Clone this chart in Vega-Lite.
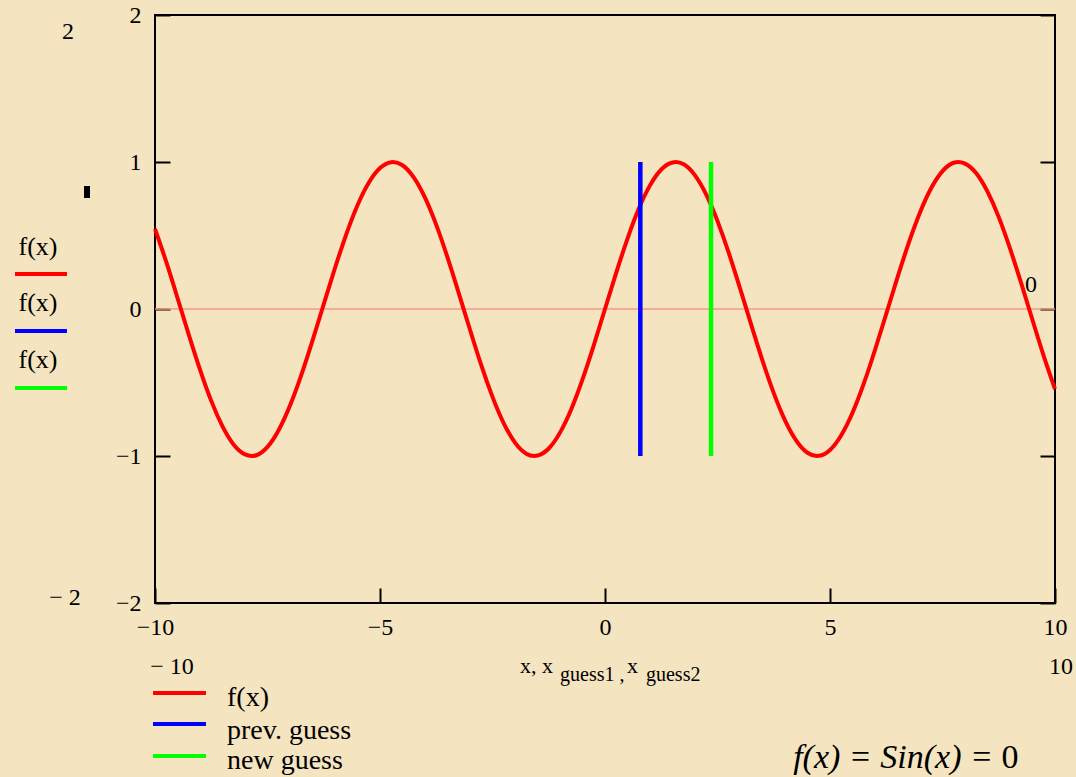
{
  "$schema": "https://vega.github.io/schema/vega-lite/v6.json",
  "width": 900,
  "height": 588,
  "autosize": {"type": "none"},
  "padding": {"left": 155, "top": 15, "right": 21, "bottom": 174},
  "background": "#f5e4c0",
  "config": {
    "view": {"stroke": "#000000", "strokeWidth": 2},
    "axis": {
      "domain": false,
      "grid": false,
      "tickColor": "#000000",
      "tickWidth": 2,
      "tickSize": -15,
      "labelFont": "Liberation Serif",
      "labelFontSize": 24,
      "labelColor": "#000000",
      "title": null
    },
    "text": {"font": "Liberation Serif", "color": "#000000"}
  },
  "datasets": {
    "curve": [
      {"x": -10, "y": 0.544}, {"x": -9.75, "y": 0.320}, {"x": -9.5, "y": 0.075}, {"x": -9.25, "y": -0.174},
      {"x": -9, "y": -0.412}, {"x": -8.75, "y": -0.625}, {"x": -8.5, "y": -0.798}, {"x": -8.25, "y": -0.923},
      {"x": -8, "y": -0.989}, {"x": -7.75, "y": -0.995}, {"x": -7.5, "y": -0.938}, {"x": -7.25, "y": -0.823},
      {"x": -7, "y": -0.657}, {"x": -6.75, "y": -0.450}, {"x": -6.5, "y": -0.215}, {"x": -6.25, "y": 0.033},
      {"x": -6, "y": 0.279}, {"x": -5.75, "y": 0.508}, {"x": -5.5, "y": 0.706}, {"x": -5.25, "y": 0.859},
      {"x": -5, "y": 0.959}, {"x": -4.75, "y": 0.999}, {"x": -4.5, "y": 0.978}, {"x": -4.25, "y": 0.895},
      {"x": -4, "y": 0.757}, {"x": -3.75, "y": 0.572}, {"x": -3.5, "y": 0.351}, {"x": -3.25, "y": 0.108},
      {"x": -3, "y": -0.141}, {"x": -2.75, "y": -0.382}, {"x": -2.5, "y": -0.598}, {"x": -2.25, "y": -0.778},
      {"x": -2, "y": -0.909}, {"x": -1.75, "y": -0.984}, {"x": -1.5, "y": -0.997}, {"x": -1.25, "y": -0.949},
      {"x": -1, "y": -0.841}, {"x": -0.75, "y": -0.682}, {"x": -0.5, "y": -0.479}, {"x": -0.25, "y": -0.247},
      {"x": 0, "y": 0},
      {"x": 0.25, "y": 0.247}, {"x": 0.5, "y": 0.479}, {"x": 0.75, "y": 0.682}, {"x": 1, "y": 0.841},
      {"x": 1.25, "y": 0.949}, {"x": 1.5, "y": 0.997}, {"x": 1.75, "y": 0.984}, {"x": 2, "y": 0.909},
      {"x": 2.25, "y": 0.778}, {"x": 2.5, "y": 0.598}, {"x": 2.75, "y": 0.382}, {"x": 3, "y": 0.141},
      {"x": 3.25, "y": -0.108}, {"x": 3.5, "y": -0.351}, {"x": 3.75, "y": -0.572}, {"x": 4, "y": -0.757},
      {"x": 4.25, "y": -0.895}, {"x": 4.5, "y": -0.978}, {"x": 4.75, "y": -0.999}, {"x": 5, "y": -0.959},
      {"x": 5.25, "y": -0.859}, {"x": 5.5, "y": -0.706}, {"x": 5.75, "y": -0.508}, {"x": 6, "y": -0.279},
      {"x": 6.25, "y": -0.033}, {"x": 6.5, "y": 0.215}, {"x": 6.75, "y": 0.450}, {"x": 7, "y": 0.657},
      {"x": 7.25, "y": 0.823}, {"x": 7.5, "y": 0.938}, {"x": 7.75, "y": 0.995}, {"x": 8, "y": 0.989},
      {"x": 8.25, "y": 0.923}, {"x": 8.5, "y": 0.798}, {"x": 8.75, "y": 0.625}, {"x": 9, "y": 0.412},
      {"x": 9.25, "y": 0.174}, {"x": 9.5, "y": -0.075}, {"x": 9.75, "y": -0.320}, {"x": 10, "y": -0.544}
    ],
    "zero": [{"x0": -10, "x1": 10, "y": 0}],
    "guesses": [
      {"series": "prev. guess", "x": 0.785, "lo": -1, "hi": 1},
      {"series": "new guess", "x": 2.356, "lo": -1, "hi": 1}
    ],
    "keys": [
      {"series": "f(x)", "x0": -13.111, "x1": -11.956, "y": 0.238},
      {"series": "prev. guess", "x0": -13.111, "x1": -11.956, "y": -0.150},
      {"series": "new guess", "x0": -13.111, "x1": -11.956, "y": -0.537},
      {"series": "f(x)", "x0": -10.044, "x1": -8.867, "y": -2.612},
      {"series": "prev. guess", "x0": -10.044, "x1": -8.867, "y": -2.823},
      {"series": "new guess", "x0": -10.044, "x1": -8.867, "y": -3.041}
    ],
    "notes": [
      {"text": "2", "x": -11.933, "y": 1.884},
      {"text": "0", "x": 9.467, "y": 0.163},
      {"text": "− 2", "x": -12.0, "y": -1.966},
      {"text": "− 10", "x": -9.622, "y": -2.435},
      {"text": "10", "x": 10.133, "y": -2.435}
    ],
    "leftKeyText": [
      {"text": "f(x)", "x": -12.6, "y": 0.422},
      {"text": "f(x)", "x": -12.6, "y": 0.041},
      {"text": "f(x)", "x": -12.6, "y": -0.347}
    ],
    "marker": [{"x": -11.511, "y": 0.796}],
    "legendText": [
      {"text": "f(x)", "x": -8.4, "y": -2.646},
      {"text": "prev. guess", "x": -8.4, "y": -2.871},
      {"text": "new guess", "x": -8.4, "y": -3.075}
    ],
    "titleMain": [
      {"text": "x, x", "x": -1.889, "y": -2.476},
      {"text": "x", "x": 0.489, "y": -2.476}
    ],
    "titleSub": [
      {"text": "guess1 ,", "x": -1.0, "y": -2.531},
      {"text": "guess2", "x": 0.911, "y": -2.531}
    ],
    "formulaItalic": [{"text": "f(x) = Sin(x) =", "x": 8.62, "y": -3.054}],
    "formulaUpright": [{"text": "0", "x": 9.0, "y": -3.054}]
  },
  "resolve": {"axis": {"y": "independent"}},
  "layer": [
    {
      "data": {"name": "zero"},
      "mark": {"type": "rule", "color": "#f39a8a", "strokeWidth": 1.5},
      "encoding": {
        "x": {"field": "x0", "type": "quantitative", "scale": {"domain": [-10, 10], "nice": false, "zero": false},
              "axis": {"values": [-10, -5, 0, 5, 10], "labelPadding": 27, "labelFlush": false}},
        "x2": {"field": "x1"},
        "y": {"field": "y", "type": "quantitative", "scale": {"domain": [-2, 2], "nice": false},
              "axis": {"orient": "right", "labels": false, "values": [-2, -1, 0, 1, 2]}}
      }
    },
    {
      "data": {"name": "curve"},
      "mark": {"type": "line", "color": "#ff0000", "strokeWidth": 4, "interpolate": "natural"},
      "encoding": {
        "x": {"field": "x", "type": "quantitative"},
        "y": {"field": "y", "type": "quantitative",
              "axis": {"orient": "left", "values": [-2, -1, 0, 1, 2], "labelPadding": 29, "labelFlush": false}}
      }
    },
    {
      "data": {"name": "guesses"},
      "mark": {"type": "rule", "strokeWidth": 4.5},
      "encoding": {
        "x": {"field": "x", "type": "quantitative"},
        "y": {"field": "lo", "type": "quantitative", "axis": null},
        "y2": {"field": "hi"},
        "color": {"field": "series", "type": "nominal",
                  "scale": {"domain": ["f(x)", "prev. guess", "new guess"], "range": ["#ff0000", "#0000ff", "#00ff00"]},
                  "legend": null}
      }
    },
    {
      "data": {"name": "keys"},
      "mark": {"type": "rule", "strokeWidth": 4, "clip": false},
      "encoding": {
        "x": {"field": "x0", "type": "quantitative"},
        "x2": {"field": "x1"},
        "y": {"field": "y", "type": "quantitative", "axis": null},
        "color": {"field": "series", "type": "nominal", "legend": null}
      }
    },
    {
      "data": {"name": "notes"},
      "mark": {"type": "text", "font": "Liberation Serif", "fontSize": 24, "align": "center", "baseline": "middle", "clip": false},
      "encoding": {
        "x": {"field": "x", "type": "quantitative"},
        "y": {"field": "y", "type": "quantitative", "axis": null},
        "text": {"field": "text"}
      }
    },
    {
      "data": {"name": "leftKeyText"},
      "mark": {"type": "text", "font": "Liberation Serif", "fontSize": 26, "align": "center", "baseline": "middle", "clip": false},
      "encoding": {
        "x": {"field": "x", "type": "quantitative"},
        "y": {"field": "y", "type": "quantitative", "axis": null},
        "text": {"field": "text"}
      }
    },
    {
      "data": {"name": "marker"},
      "mark": {"type": "point", "shape": "M-0.5,-1H0.5V1H-0.5Z", "size": 144, "filled": true, "color": "#000000", "opacity": 1, "clip": false},
      "encoding": {
        "x": {"field": "x", "type": "quantitative"},
        "y": {"field": "y", "type": "quantitative", "axis": null}
      }
    },
    {
      "data": {"name": "legendText"},
      "mark": {"type": "text", "font": "Liberation Serif", "fontSize": 28, "align": "left", "baseline": "middle", "clip": false},
      "encoding": {
        "x": {"field": "x", "type": "quantitative"},
        "y": {"field": "y", "type": "quantitative", "axis": null},
        "text": {"field": "text"}
      }
    },
    {
      "data": {"name": "titleMain"},
      "mark": {"type": "text", "font": "Liberation Serif", "fontSize": 22, "align": "left", "baseline": "alphabetic", "clip": false},
      "encoding": {
        "x": {"field": "x", "type": "quantitative"},
        "y": {"field": "y", "type": "quantitative", "axis": null},
        "text": {"field": "text"}
      }
    },
    {
      "data": {"name": "titleSub"},
      "mark": {"type": "text", "font": "Liberation Serif", "fontSize": 20, "align": "left", "baseline": "alphabetic", "clip": false},
      "encoding": {
        "x": {"field": "x", "type": "quantitative"},
        "y": {"field": "y", "type": "quantitative", "axis": null},
        "text": {"field": "text"}
      }
    },
    {
      "data": {"name": "formulaItalic"},
      "mark": {"type": "text", "font": "Liberation Serif", "fontSize": 34, "fontStyle": "italic", "align": "right", "baseline": "middle", "clip": false},
      "encoding": {
        "x": {"field": "x", "type": "quantitative"},
        "y": {"field": "y", "type": "quantitative", "axis": null},
        "text": {"field": "text"}
      }
    },
    {
      "data": {"name": "formulaUpright"},
      "mark": {"type": "text", "font": "Liberation Serif", "fontSize": 34, "align": "center", "baseline": "middle", "clip": false},
      "encoding": {
        "x": {"field": "x", "type": "quantitative"},
        "y": {"field": "y", "type": "quantitative", "axis": null},
        "text": {"field": "text"}
      }
    }
  ]
}
